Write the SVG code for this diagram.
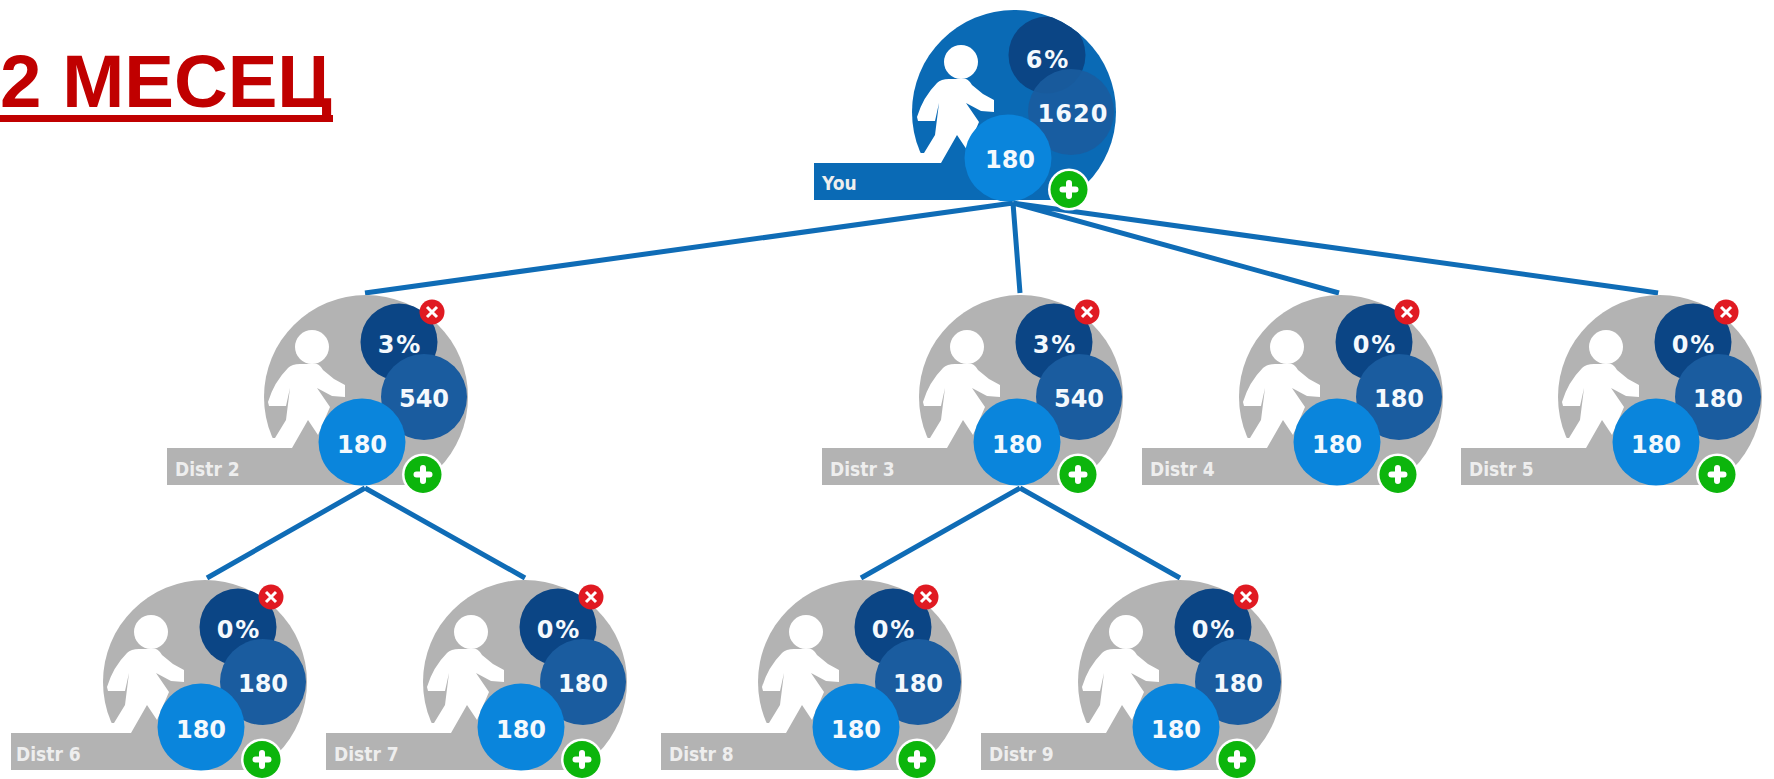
<svg xmlns="http://www.w3.org/2000/svg" width="1774" height="779" viewBox="0 0 1774 779">
<style>
.big{fill:#b3b3b3}.you{fill:#0a6ab5}
.d{fill:#0b4585}.m{fill:#1a5c9f}.l{fill:#0a85dc}
.n{font-family:"DejaVu Sans",sans-serif;font-weight:700;font-size:24px;fill:#f4f9fd;text-anchor:middle}
.p{letter-spacing:2px}
.lab{font-family:"DejaVu Sans Condensed","DejaVu Sans",sans-serif;font-weight:700;font-size:19px;fill:#eeeeee}
.con{stroke:#0f6cb6;stroke-width:5;fill:none}
.title{font-family:"Liberation Sans",Arial,sans-serif;font-weight:700;font-size:74.500px;fill:#c00000}
</style>
<defs>
<clipPath id="bottom"><rect x="160" y="280" width="320" height="205"/></clipPath>
<clipPath id="youclip"><circle cx="1014" cy="112" r="102"/></clipPath>
<clipPath id="youbottom"><rect x="800" y="0" width="330" height="200"/></clipPath>
<g id="person" fill="#fff">
<circle cx="312" cy="347" r="17"/>
<path d="M288 368Q292 364 300 364L317 364Q320 365 323 370L334 379L345 385L345 397L332 396L317 388L330 407L318 435L308 420L292 448L270 448L270 438L275 438L286 420L290 388L286 406L269 406L268 402Q274 382 288 368Z"/>
</g>
<g id="plus"><circle cx="423" cy="474.500" r="21" fill="#fff"/><circle cx="423" cy="474.500" r="18.500" fill="#0cb50c"/><path d="M423 468V481M416.500 474.500H429.500" stroke="#fff" stroke-width="6" stroke-linecap="round" fill="none"/></g>
<g id="cross"><circle cx="432" cy="312" r="12.500" fill="#e01a22"/><path d="M427 307L437 317M437 307L427 317" stroke="#fff" stroke-width="3" fill="none"/></g>
<g id="disc" clip-path="url(#bottom)"><circle class="big" cx="366" cy="397" r="102"/></g>
<g id="face">
<use href="#person"/>
<circle class="d" cx="399" cy="342" r="38.500"/>
<circle class="m" cx="424" cy="397" r="43"/>
<circle class="l" cx="362" cy="442" r="43.500"/>
<use href="#cross"/>
<use href="#plus"/>
</g>
<rect id="bar" class="big" x="167" y="448" width="200" height="37"/>
</defs>
<g id="title">
<text class="title" x="0" y="107">2 МЕСЕЦ</text>
<rect x="0" y="115" width="333" height="7" fill="#c00000"/>
</g>
<g id="connectors">
<path class="con" d="M1013 203L365 293M1013 203L1020 293M1013 203L1339 293M1013 203L1658 293"/>
<path class="con" d="M365 488L207 578M365 488L525 578M1020 488L861 578M1020 488L1180 578"/>
</g>
<g id="you">
<g clip-path="url(#youbottom)"><circle class="you" cx="1014" cy="112" r="102"/></g>
<rect class="you" x="814" y="163" width="200" height="37"/>
<use href="#person" x="649" y="-285"/>
<g clip-path="url(#youclip)">
<circle class="d" cx="1047" cy="55" r="38.500"/>
<circle class="m" cx="1071" cy="112" r="43" opacity="0.9"/>
</g>
<circle class="l" cx="1008" cy="158" r="43.500"/>
<use href="#plus" x="646" y="-285"/>
<text class="n p" x="1048" y="68">6%</text>
<text class="n" x="1073" y="122" style="letter-spacing:1px">1620</text>
<text class="n" x="1010" y="168">180</text>
<text class="lab" x="822" y="190">You</text>
</g>
<g id="distr2"><use href="#disc"/><use href="#bar"/><use href="#face"/><text class="n p" x="400" y="353">3%</text><text class="n" x="424" y="407">540</text><text class="n" x="362" y="453">180</text><text class="lab" x="175" y="476">Distr 2</text></g>
<g id="distr3" transform="translate(655 0)"><use href="#disc"/><use href="#bar"/><use href="#face"/><text class="n p" x="400" y="353">3%</text><text class="n" x="424" y="407">540</text><text class="n" x="362" y="453">180</text><text class="lab" x="175" y="476">Distr 3</text></g>
<g id="distr4" transform="translate(975 0)"><use href="#disc"/><use href="#bar"/><use href="#face"/><text class="n p" x="400" y="353">0%</text><text class="n" x="424" y="407">180</text><text class="n" x="362" y="453">180</text><text class="lab" x="175" y="476">Distr 4</text></g>
<g id="distr5" transform="translate(1294 0)"><use href="#disc"/><use href="#bar"/><use href="#face"/><text class="n p" x="400" y="353">0%</text><text class="n" x="424" y="407">180</text><text class="n" x="362" y="453">180</text><text class="lab" x="175" y="476">Distr 5</text></g>
<g id="distr6" transform="translate(-161 285)"><use href="#disc"/><rect class="big" x="172" y="448" width="195" height="37"/><use href="#face"/><text class="n p" x="400" y="353">0%</text><text class="n" x="424" y="407">180</text><text class="n" x="362" y="453">180</text><text class="lab" x="177" y="476">Distr 6</text></g>
<g id="distr7" transform="translate(159 285)"><use href="#disc"/><use href="#bar"/><use href="#face"/><text class="n p" x="400" y="353">0%</text><text class="n" x="424" y="407">180</text><text class="n" x="362" y="453">180</text><text class="lab" x="175" y="476">Distr 7</text></g>
<g id="distr8" transform="translate(494 285)"><use href="#disc"/><use href="#bar"/><use href="#face"/><text class="n p" x="400" y="353">0%</text><text class="n" x="424" y="407">180</text><text class="n" x="362" y="453">180</text><text class="lab" x="175" y="476">Distr 8</text></g>
<g id="distr9" transform="translate(814 285)"><use href="#disc"/><use href="#bar"/><use href="#face"/><text class="n p" x="400" y="353">0%</text><text class="n" x="424" y="407">180</text><text class="n" x="362" y="453">180</text><text class="lab" x="175" y="476">Distr 9</text></g>
</svg>
